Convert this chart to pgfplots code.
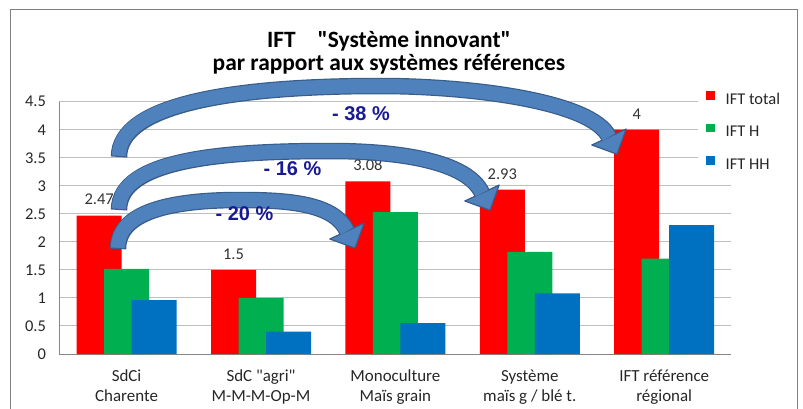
\documentclass[border=0pt]{standalone}
\usepackage{pgfplots}
\usepackage{pgfplotstable}
\pgfplotsset{compat=1.18}
\usepackage{fontspec}
\setmainfont{Carlito}[Ligatures=TeXOff]
\newfontfamily\pctfont{Liberation Sans}

\definecolor{cRed}{RGB}{255,0,0}
\definecolor{cGreen}{RGB}{0,176,80}
\definecolor{cBlue}{RGB}{0,112,192}
\definecolor{arrowfill}{RGB}{79,129,189}
\definecolor{arrowedge}{RGB}{56,93,138}
\definecolor{pct}{RGB}{25,25,150}
\definecolor{gridc}{RGB}{190,190,190}
\definecolor{axisc}{RGB}{134,134,134}
\definecolor{framec}{RGB}{128,128,128}

\pgfplotstableread{
x total H HH
0 2.47 1.52 0.96
1 1.5 1.0 0.4
2 3.08 2.53 0.55
3 2.93 1.82 1.08
4 4 1.7 2.3
}\datatable

\begin{document}
\begin{tikzpicture}
\path[use as bounding box] (0,0) rectangle (803bp,-409bp);
\begin{axis}[
  at={(59.4bp,-354bp)}, anchor=south west,
  scale only axis, width=672bp, height=252.3bp,
  xmin=-0.5, xmax=4.5, ymin=0, ymax=4.5,
  ybar=-17.5bp, bar width=45bp,
  axis x line*=bottom, axis y line*=left,
  axis line style={-, draw=axisc, line width=1bp},
  ymajorgrids, grid style={draw=gridc, line width=1bp},
  major tick length=0pt,
  ytick={0,0.5,1,1.5,2,2.5,3,3.5,4,4.5},
  xtick={0,1,2,3,4},
  xticklabels={{SdCi\\Charente},{SdC "agri"\\M-M-M-Op-M},{Monoculture\\Maïs grain},{Système\\maïs g / blé t.},{IFT référence\\régional}},
  xticklabel style={align=center, font=\fontsize{17}{20.5}\selectfont, text=black!85, yshift=-12bp},
  yticklabel style={font=\fontsize{16.5}{19}\selectfont, text=black!85, xshift=-10bp},
  /pgf/number format/assume math mode=true,
  legend style={at={(axis description cs:0.9503,1.0543)}, anchor=north west,
    draw=none, fill=white, inner xsep=8bp, inner ysep=3bp,
    font=\fontsize{16.5}{19}\selectfont, text=black!85, row sep=13.5bp,
    nodes={inner sep=2bp, text height=11bp, text depth=4bp},
    /tikz/every odd column/.append style={column sep=9bp}},
  legend cell align=left,
  legend image code/.code={\fill[#1,draw=none] (0bp,1bp) rectangle (8.5bp,9.5bp);},
]
\addplot[fill=cRed, draw=none, nodes near coords,
  every node near coord/.append style={font=\fontsize{16.5}{19}\selectfont, text=black!80, yshift=7bp}]
  table[x=x,y=total]{\datatable};
\addplot[fill=cGreen, draw=none] table[x=x,y=H]{\datatable};
\addplot[fill=cBlue, draw=none] table[x=x,y=HH]{\datatable};
\legend{IFT total, IFT H, IFT HH}
\end{axis}

\begin{scope}[x=1bp, y=-1bp]
\draw[framec, line width=1.8bp] (10.5,409) -- (10.5,9.5) -- (797.5,9.5) -- (797.5,409);
\node[anchor=base, font=\fontsize{23.5}{26}\selectfont\bfseries] at (389,47) {IFT\hspace{22bp}"Système innovant"};
\node[anchor=base, font=\fontsize{23.5}{26}\selectfont\bfseries] at (389,70.5) {par rapport aux systèmes références};

% arrow 1 (-38 %)
\draw[arrowedge, line width=16.5bp] (119,157) .. controls (119,105) and (230,86) .. (380,86) .. controls (470,86) and (592,101) .. (609,137);
\filldraw[fill=arrowfill, draw=arrowedge, line width=1.2bp, line join=round] (591.8,145.0) -- (617.0,154.2) -- (626.2,129.0) -- cycle;
\draw[arrowfill, line width=14.1bp, shorten <=1.2bp] (119,157) .. controls (119,105) and (230,86) .. (380,86) .. controls (470,86) and (592,101) .. (609,137);

% arrow 2 (-16 %)
\draw[arrowedge, line width=16.5bp] (119,210) .. controls (119,160) and (220,151) .. (330,151) .. controls (400,151) and (467.2,161.3) .. (482,193);
\filldraw[fill=arrowfill, draw=arrowedge, line width=1.2bp, line join=round] (464.8,201.0) -- (490.0,210.2) -- (499.2,185.0) -- cycle;
\draw[arrowfill, line width=14.1bp, shorten <=1.2bp] (119,210) .. controls (119,160) and (220,151) .. (330,151) .. controls (400,151) and (467.2,161.3) .. (482,193);

% arrow 3 (-20 %)
\draw[arrowedge, line width=16.5bp] (118,249) .. controls (118,212) and (170,200) .. (240,200) .. controls (290,200) and (334.3,203.8) .. (347,231);
\filldraw[fill=arrowfill, draw=arrowedge, line width=1.2bp, line join=round] (329.8,239.0) -- (355.0,248.2) -- (364.2,223.0) -- cycle;
\draw[arrowfill, line width=14.1bp, shorten <=1.2bp] (118,249) .. controls (118,212) and (170,200) .. (240,200) .. controls (290,200) and (334.3,203.8) .. (347,231);

\node[anchor=base, font=\pctfont\bfseries\fontsize{20}{22}\selectfont, text=pct] at (361,120) {- 38 \%};
\node[anchor=base, font=\pctfont\bfseries\fontsize{20}{22}\selectfont, text=pct] at (292.5,175) {- 16 \%};
\node[anchor=base, font=\pctfont\bfseries\fontsize{20}{22}\selectfont, text=pct] at (244.5,220) {- 20 \%};
\end{scope}
\end{tikzpicture}
\end{document}
